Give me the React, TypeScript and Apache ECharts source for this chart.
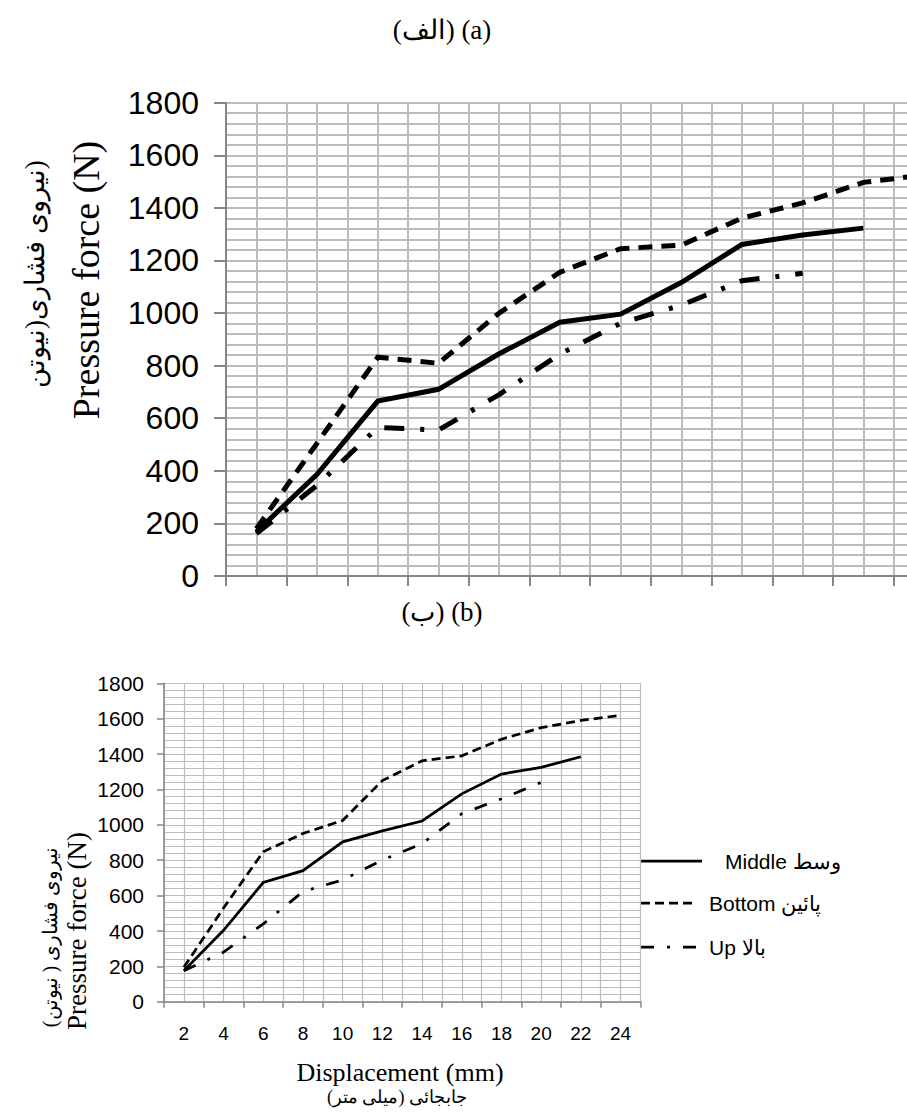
import React, { useEffect, useRef } from "react";
import * as echarts from "echarts";

// ---------- data ----------
const displacementCats = ["2", "4", "6", "8", "10", "12", "14", "16", "18", "20", "22", "24"];

// chart (a)
const aMiddle = [168, 387, 665, 710, 845, 965, 996, 1116, 1261, 1297, 1323];
const aBottom = [180, 505, 832, 809, 1000, 1155, 1245, 1258, 1361, 1419, 1497, 1525];
const aUp = [161, 345, 565, 555, 690, 844, 961, 1030, 1123, 1151];

// chart (b)
const bMiddle = [175, 404, 674, 741, 904, 966, 1022, 1175, 1287, 1325, 1385];
const bBottom = [195, 530, 848, 951, 1025, 1250, 1362, 1390, 1484, 1549, 1590, 1619];
const bUp = [175, 281, 440, 623, 689, 801, 894, 1063, 1147, 1240];

const yMin = 0;
const yMax = 1800;
const yStep = 200;

const seriesNames = ["Middle وسط", "Bottom پائین", "Up بالا"];

const SANS = "'Liberation Sans', Arial, sans-serif";
const SERIF = "'Liberation Serif', 'Times New Roman', serif";

export default function App() {
  const ref = useRef<HTMLDivElement>(null);

  useEffect(() => {
    if (!ref.current) return;
    const chart = echarts.init(ref.current, undefined, { renderer: "svg" });

    const axisGray = "#868686";
    const gridGray = "#bcbcbc";

    const catAxis = (gridIndex: number, big: boolean) => ({
      gridIndex,
      type: "category",
      data: displacementCats,
      boundaryGap: true,
      axisLine: { show: true, lineStyle: { color: axisGray, width: big ? 2 : 1.5 } },
      axisTick: { show: true, length: big ? 10 : 6, lineStyle: { color: axisGray, width: big ? 2 : 1.5 } },
      axisLabel: big
        ? { show: false }
        : { show: true, fontSize: 19, color: "#000", margin: 22, fontFamily: SANS },
      splitLine: { show: false },
    });

    const gridValueAxis = (gridIndex: number, big: boolean) => ({
      gridIndex,
      type: "value",
      position: "top",
      min: 1,
      max: 25,
      interval: 1,
      axisLine: { show: false },
      axisTick: { show: false },
      axisLabel: { show: false },
      splitLine: { show: true, lineStyle: { color: gridGray, width: big ? 2 : 1.2 } },
    });

    const yAxis = (gridIndex: number, big: boolean) => ({
      gridIndex,
      type: "value",
      min: yMin,
      max: yMax,
      interval: yStep,
      axisLine: { show: true, lineStyle: { color: axisGray, width: big ? 2 : 1.5 } },
      axisTick: { show: true, length: big ? 12 : 7, lineStyle: { color: axisGray, width: big ? 2 : 1.5 } },
      axisLabel: {
        fontSize: big ? 32 : 21,
        color: "#000",
        margin: big ? 27 : 20,
        fontFamily: SANS,
        formatter: (v: number) => String(v),
      },
      splitLine: { show: true, lineStyle: { color: gridGray, width: big ? 2 : 1.2 } },
      minorTick: { show: false, splitNumber: 5 },
      minorSplitLine: { show: true, lineStyle: { color: gridGray, width: big ? 2 : 1.2 } },
    });

    const line = (
      name: string,
      data: number[],
      idx: number,
      width: number,
      type: any
    ) => ({
      name,
      type: "line",
      xAxisIndex: idx * 2,
      yAxisIndex: idx,
      data,
      symbol: "none",
      lineStyle: { color: "#000", width, type, cap: "butt", join: "miter" },
      z: 5,
    });

    const legendY = [861, 903, 947];
    const legendStyles: any[] = [null, [9, 5], [13, 13, 3, 13]];

    const option: any = {
      animation: false,
      backgroundColor: "#fff",
      grid: [
        { left: 226, top: 102.7, width: 728.4, height: 473.3 },
        { left: 164, top: 683.3, width: 476.4, height: 318.5 },
      ],
      xAxis: [catAxis(0, true), gridValueAxis(0, true), catAxis(1, false), gridValueAxis(1, false)],
      yAxis: [yAxis(0, true), yAxis(1, false)],
      series: [
        line(seriesNames[0], aMiddle, 0, 5, "solid"),
        line(seriesNames[1], aBottom, 0, 5, [14, 9]),
        line(seriesNames[2], aUp, 0, 5, [20, 16, 4, 16]),
        line(seriesNames[0], bMiddle, 1, 2.75, "solid"),
        line(seriesNames[1], bBottom, 1, 2.75, [9, 5]),
        line(seriesNames[2], bUp, 1, 2.75, [13, 13, 3, 13]),
      ],
      graphic: [
        // titles
        {
          type: "text",
          x: 442,
          y: 30,
          style: { text: "(الف) (a)", font: `27px ${SERIF}`, fill: "#000", align: "center", verticalAlign: "middle" },
        },
        {
          type: "text",
          x: 442,
          y: 612,
          style: { text: "(ب) (b)", font: `27px ${SERIF}`, fill: "#000", align: "center", verticalAlign: "middle" },
        },
        // chart (a) y titles
        {
          type: "text",
          x: 86,
          y: 280,
          rotation: Math.PI / 2,
          style: { text: "Pressure force (N)", font: `38px ${SERIF}`, fill: "#000", align: "center", verticalAlign: "middle" },
        },
        {
          type: "text",
          x: 35,
          y: 274,
          rotation: Math.PI / 2,
          style: { text: "\u202Bنیروی فشاری(نیوتن\u202C)", font: `27px ${SERIF}`, fill: "#000", align: "center", verticalAlign: "middle" },
        },
        // chart (b) y titles
        {
          type: "text",
          x: 77,
          y: 931,
          rotation: Math.PI / 2,
          style: { text: "Pressure force (N)", font: `27px ${SERIF}`, fill: "#000", align: "center", verticalAlign: "middle" },
        },
        {
          type: "text",
          x: 50,
          y: 937,
          rotation: Math.PI / 2,
          style: { text: "\u202Bنیروی فشاری ( نیوتن)\u202C", font: `20px ${SERIF}`, fill: "#000", align: "center", verticalAlign: "middle" },
        },
        // chart (b) x titles
        {
          type: "text",
          x: 400,
          y: 1072,
          style: { text: "Displacement (mm)", font: `26px ${SERIF}`, fill: "#000", align: "center", verticalAlign: "middle" },
        },
        {
          type: "text",
          x: 397,
          y: 1097,
          style: { text: "جابجائی (میلی متر)", font: `18px ${SERIF}`, fill: "#000", align: "center", verticalAlign: "middle" },
        },
        // legend
        ...seriesNames.map((n, i) => ({
          type: "line",
          shape: { x1: 641, y1: legendY[i], x2: i === 0 ? 702 : 697, y2: legendY[i] },
          style: { stroke: "#000", lineWidth: 2.75, lineDash: legendStyles[i] || undefined, lineCap: "butt" },
        })),
        ...seriesNames.map((n, i) => ({
          type: "text",
          x: i === 0 ? 725 : 709,
          y: legendY[i],
          style: { text: n, font: `21px ${SANS}`, fill: "#000", align: "left", verticalAlign: "middle" },
        })),
      ],
    };

    chart.setOption(option);
    return () => chart.dispose();
  }, []);

  return (
    <div
      style={{ position: "absolute", left: 0, top: 0, width: 907, height: 1118, overflow: "hidden", background: "#fff" }}
    >
      <div ref={ref} style={{ width: 1000, height: 1118 }} />
    </div>
  );
}
